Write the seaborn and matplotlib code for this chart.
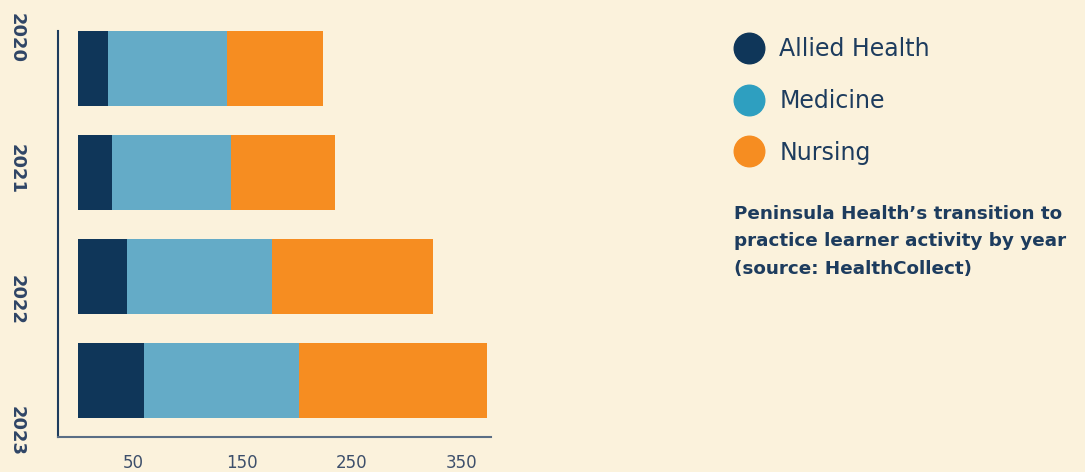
import matplotlib
matplotlib.use("Agg")
import matplotlib.pyplot as plt
from matplotlib.lines import Line2D
import seaborn as sns
import numpy as np
import pandas as pd

# values
years = ["2020", "2021", "2022", "2023"]
allied = [27, 31, 45, 60]
medicine = [109, 109, 132, 142]
nursing = [88, 95, 147, 171]
x_ticks = [50, 150, 250, 350]

bar_colors = {"Allied Health": "#0f3659", "Medicine": "#64abc7", "Nursing": "#f68d21"}
legend_colors = {"Allied Health": "#0f3659", "Medicine": "#2e9fc0", "Nursing": "#f68d21"}
bg = "#fbf2dc"
ink = "#1d3c5e"

df = pd.DataFrame({"Year": years, "Allied Health": allied,
                   "Medicine": medicine, "Nursing": nursing})
df["med_cum"] = df["Allied Health"] + df["Medicine"]
df["total"] = df["med_cum"] + df["Nursing"]

sns.set_style("white")
plt.rcParams["font.family"] = ["DejaVu Sans"]

fig = plt.figure(figsize=(10.85, 4.72), dpi=100, facecolor=bg)
ax = fig.add_axes([0.0535, 0.0742, 0.399, 0.891], facecolor=bg)

# stacked bars: draw cumulative totals back to front
for col, key in [("total", "Nursing"), ("med_cum", "Medicine"), ("Allied Health", "Allied Health")]:
    sns.barplot(data=df, x=col, y="Year", orient="h", color=bar_colors[key],
                saturation=1, width=0.72, linewidth=0, ax=ax)

ax.set_xticks(x_ticks)
ax.set_xticklabels([str(t) for t in x_ticks], fontsize=12, color="#3d4f6b")
# year labels spread evenly along the axis, as in the reference
ax.set_yticks(np.linspace(-0.47, 3.31, len(years)))
ax.set_yticklabels(years, rotation=-90, fontsize=13, fontweight="bold", color="#2f4566")
ax.set_xlim(-18.3, 377)
ax.set_ylim(3.54, -0.50)
ax.tick_params(axis="x", length=0, pad=12)
ax.tick_params(axis="y", length=0, pad=23)
ax.set_xlabel("")
ax.set_ylabel("")

for s in ["top", "right"]:
    ax.spines[s].set_visible(False)
ax.spines["left"].set_color("#1d3c5e")
ax.spines["left"].set_linewidth(1.5)
ax.spines["left"].set_bounds(-0.36, 3.54)
ax.spines["bottom"].set_color("#5a6e85")
ax.spines["bottom"].set_linewidth(1.5)

handles = [Line2D([], [], marker="o", linestyle="", markersize=22,
                  markerfacecolor=legend_colors[k], markeredgecolor=legend_colors[k])
           for k in ["Allied Health", "Medicine", "Nursing"]]
leg = fig.legend(handles, ["Allied Health", "Medicine", "Nursing"],
                 loc="upper left", bbox_to_anchor=(0.677, 0.921), frameon=False,
                 fontsize=17, handlelength=1.25, handletextpad=0.64,
                 labelspacing=1.17, borderpad=0, borderaxespad=0)
for t in leg.get_texts():
    t.set_color(ink)

fig.text(0.6765, 0.565,
         "Peninsula Health\u2019s transition to\npractice learner activity by year\n(source: HealthCollect)",
         ha="left", va="top", fontsize=13.2, fontweight="bold", color=ink, linespacing=1.65)

fig.savefig("out.png", dpi=100, facecolor=bg)
